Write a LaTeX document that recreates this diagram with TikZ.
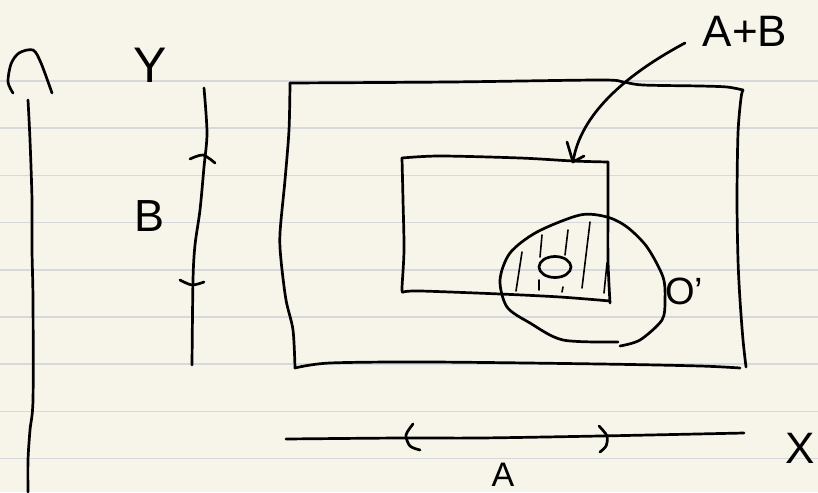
\documentclass[tikz,border=0pt]{standalone}
\usepackage{fontspec}
\setmainfont{Liberation Sans}
\definecolor{paper}{RGB}{247,245,233}
\definecolor{rule}{RGB}{214,216,219}
\tikzset{
  pen/.style={draw=black, line width=2.7pt, line cap=round, line join=round},
  hatch/.style={draw=black, line width=1.6pt, line cap=round},
  rulel/.style={draw=rule, line width=1.6pt},
  hand/.style={inner sep=0pt, outer sep=0pt, anchor=base, text=black}
}
\newcommand{\fs}[1]{\fontsize{#1}{#1}\selectfont}
\begin{document}
\begin{tikzpicture}[x=1pt,y=-1pt]
\useasboundingbox (0,0) rectangle (818,492);
\fill[paper] (0,0) rectangle (818,492);
% ruled lines
\foreach \k in {0,...,8} {
  \draw[rulel] (0,{81+47.2*\k}) -- (818,{81+47.2*\k});
}
% left vertical axis with cap
\draw[pen] plot[smooth] coordinates {(13,93) (8,82) (11,64) (19,53) (33,50) (41,63) (52,93)};
\draw[pen] plot[smooth] coordinates {(28,100) (30,140) (32,200) (32,250) (33,300) (33,400) (30,430) (28,460) (28,492)};
% labels
\node[hand, font=\fs{50}] (Y) at (150,83) {Y};
\node[hand, font=\fs{45}] (B) at (150,231) {B};
\node[hand, font=\fs{44}] (AB) at (745,47) {A+B};
\node[hand, font=\fs{34}] (A) at (503,486) {A};
\node[hand, font=\fs{44}] (X) at (800,463) {X};
\node[hand, font=\fs{38}] (Op) at (684,304) {O'};
% Y axis
\draw[pen] plot[smooth] coordinates {(204,88) (207,133) (204,167) (200,210) (195,245) (193,280) (192,365)};
\draw[pen] plot[smooth] coordinates {(190,159) (203,155) (215,163)};
\draw[pen] plot[smooth] coordinates {(180,280) (192,285) (204,282)};
% outer rectangle
\draw[pen] plot[smooth] coordinates {(290,83) (450,82) (600,80) (623,82) (643,85) (700,86) (727,87) (743,90)};
\draw[pen] plot[smooth] coordinates {(743,90) (741,98) (738,133) (737,200) (738,260) (740,300) (743,340) (746,367)};
\draw[pen] plot[smooth] coordinates {(290,83) (289,130) (285,180) (280,233) (281,260) (286,300) (293,330) (295,368)};
\draw[pen] plot[smooth] coordinates {(295,368) (330,363) (430,362) (600,364) (700,366) (740,368)};
% inner rectangle
\draw[pen] plot[smooth] coordinates {(402,158) (440,156) (520,158) (573,161) (608,162)};
\draw[pen] plot[smooth] coordinates {(608,162) (608,200) (608,260) (610,303)};
\draw[pen] plot[smooth] coordinates {(402,158) (403,200) (404,250) (402,288) (403,292)};
\draw[pen] plot[smooth] coordinates {(403,292) (420,291) (500,294) (560,297) (610,301)};
% blob
\draw[pen] plot[smooth] coordinates {(618,342) (563,340) (530,323) (507,307) (500,280) (510,253) (537,232) (580,215) (607,217) (627,227) (647,247) (663,277) (665,300) (662,320) (640,340) (620,346)};
% hatching
\draw[hatch] (522,252) -- (516,291);
\draw[hatch] (542,235) -- (540,257);
\draw[hatch] (539,280) -- (539,290);
\draw[hatch] (568,230) -- (565,255);
\draw[hatch] (563,287) -- (562,292);
\draw[hatch] (590,222) -- (582,288);
\draw[hatch] (607,263) -- (604,293);
% small ellipse
\draw[pen] (555,267) ellipse[x radius=16, y radius=10.5];
% arrow from A+B
\coordinate (arrS) at (685,43);
\coordinate (tip) at (573,162);
\draw[pen] (arrS) .. controls (625,75) and (580,115) .. (tip);
\draw[pen] (567,142) -- (tip) -- (584,156);
% X axis
\draw[pen] plot[smooth] coordinates {(286,439) (400,438) (480,438) (600,436) (744,433)};
\draw[pen] plot[smooth] coordinates {(413,424) (406,435) (410,446) (420,450)};
\draw[pen] plot[smooth] coordinates {(599,426) (607,436) (606,446) (600,452)};
\end{tikzpicture}
\end{document}
